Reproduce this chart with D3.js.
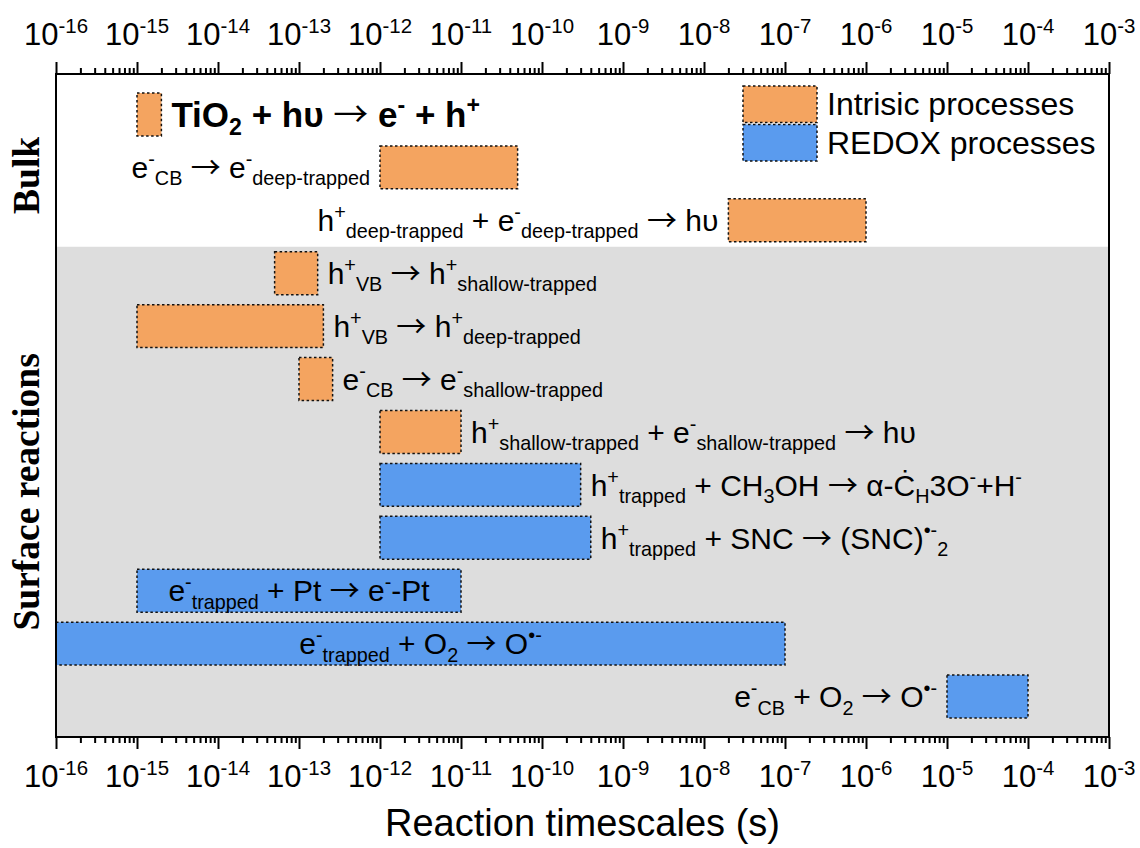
<!DOCTYPE html>
<html>
<head>
<meta charset="utf-8">
<script src="https://cdn.jsdelivr.net/npm/d3@7"></script>
<style>
  html, body { margin: 0; padding: 0; background: #ffffff; }
  svg { display: block; }
</style>
</head>
<body>
<svg id="chart" width="1140" height="848"></svg>
<script>
// Reaction labels (^{..} superscript, _{..} subscript), one row each, top to bottom
const reactions = [
  "TiO_{2} + hυ → e^{-} + h^{+}",
  "e^{-}_{CB} → e^{-}_{deep-trapped}",
  "h^{+}_{deep-trapped} + e^{-}_{deep-trapped} → hυ",
  "h^{+}_{VB} → h^{+}_{shallow-trapped}",
  "h^{+}_{VB} → h^{+}_{deep-trapped}",
  "e^{-}_{CB} → e^{-}_{shallow-trapped}",
  "h^{+}_{shallow-trapped} + e^{-}_{shallow-trapped} → hυ",
  "h^{+}_{trapped} + CH_{3}OH → α-Ċ_{H}3O^{-}+H^{-}",
  "h^{+}_{trapped} + SNC → (SNC)^{•-}_{2}",
  "e^{-}_{trapped} + Pt → e^{-}-Pt",
  "e^{-}_{trapped} + O_{2} → O^{•-}",
  "e^{-}_{CB} + O_{2} → O^{•-}"
];
// Timescale range of each reaction (seconds)
const tStart = [1e-15, 1e-12, 2e-8, 5e-14, 1e-15, 1e-13, 1e-12, 1e-12, 1e-12, 1e-15, 1e-16, 1e-5];
const tEnd   = [2e-15, 5e-11, 1e-6, 1.7e-13, 2e-13, 2.6e-13, 1e-11, 3e-10, 4e-10, 1e-11, 1e-7, 1e-4];
const processType = ["intrinsic", "intrinsic", "intrinsic", "intrinsic", "intrinsic", "intrinsic",
                     "intrinsic", "redox", "redox", "redox", "redox", "redox"];
// Where each reaction's label sits relative to its bar
const labelSide = ["right", "left", "left", "right", "right", "right",
                   "right", "right", "right", "inside", "inside", "left"];
const labelBold = [true, false, false, false, false, false, false, false, false, false, false, false];
// Region names and the number of rows in each
const regions = ["Bulk", "Surface reactions"];
const regionRows = [3, 9];
// Decade exponents for axis tick labels
const tickExponents = [-16, -15, -14, -13, -12, -11, -10, -9, -8, -7, -6, -5, -4, -3];
const legendTypes = ["intrinsic", "redox"];
const legendLabels = ["Intrisic processes", "REDOX processes"];

const colors = { intrinsic: "#F4A460", redox: "#5A9BEE" };
const SANS = "'Liberation Sans', Arial, sans-serif";
const SERIF = "'Liberation Serif', 'Times New Roman', serif";
const ARROW_FONT = "'Noto Sans CJK JP', 'DejaVu Sans', sans-serif";

const svg = d3.select("#chart");
const plotLeft = 56, plotRight = 1109, plotTop = 74, plotBottom = 737;

const x = d3.scaleLog().domain([1e-16, 1e-3]).range([plotLeft, plotRight]);
const y = d3.scaleBand()
  .domain(d3.range(reactions.length))
  .range([plotTop, plotBottom])
  .paddingInner(0.19)
  .paddingOuter(0.36);

// Background regions: Bulk (white) and Surface reactions (grey)
const boundary = y(regionRows[0] - 1) + y.bandwidth() + y.step() * y.paddingInner() / 2;
svg.append("rect").attr("x", plotLeft).attr("y", plotTop)
  .attr("width", plotRight - plotLeft).attr("height", boundary - plotTop).attr("fill", "#ffffff");
svg.append("rect").attr("x", plotLeft).attr("y", boundary)
  .attr("width", plotRight - plotLeft).attr("height", plotBottom - boundary).attr("fill", "#DDDDDD");

// Markup parser for super/subscripts; arrows get their own segment
function parseMarkup(s) {
  const re = /\^\{([^}]*)\}|_\{([^}]*)\}|(→)|([^^_→]+)/g;
  const out = [];
  let m;
  while ((m = re.exec(s)) !== null) {
    if (m[1] !== undefined) out.push({ t: m[1], mode: "sup" });
    else if (m[2] !== undefined) out.push({ t: m[2], mode: "sub" });
    else if (m[3] !== undefined) out.push({ t: m[3], mode: "arrow" });
    else out.push({ t: m[4], mode: "base" });
  }
  return out;
}
function writeRich(textSel, s, size) {
  const segs = parseMarkup(s);
  let cur = 0;
  segs.forEach(seg => {
    const target = seg.mode === "sup" ? -0.4 * size : seg.mode === "sub" ? 0.24 * size : 0;
    const ts = textSel.append("tspan")
      .attr("dy", target - cur)
      .attr("font-size", (seg.mode === "sup" || seg.mode === "sub") ? size * 0.66 : size)
      .text(seg.t);
    if (seg.mode === "arrow") {
      ts.attr("font-family", ARROW_FONT).attr("font-weight", "normal");
    }
    cur = target;
  });
}

// Bars
const bars = svg.append("g");
reactions.forEach((r, i) => {
  bars.append("rect")
    .attr("x", x(tStart[i]))
    .attr("y", y(i))
    .attr("width", x(tEnd[i]) - x(tStart[i]))
    .attr("height", y.bandwidth())
    .attr("fill", colors[processType[i]])
    .attr("stroke", "#111")
    .attr("stroke-width", 1.5)
    .attr("stroke-dasharray", "2.5,2.5");
});

// Reaction labels
const labels = svg.append("g").attr("font-family", SANS).attr("fill", "#000");
reactions.forEach((r, i) => {
  const size = labelBold[i] ? 35 : 30;
  const cy = y(i) + y.bandwidth() / 2 + 0.36 * size;
  let tx, anchor;
  if (labelSide[i] === "right") { tx = x(tEnd[i]) + 10; anchor = "start"; }
  else if (labelSide[i] === "left") { tx = x(tStart[i]) - 10; anchor = "end"; }
  else { tx = (x(tStart[i]) + x(tEnd[i])) / 2; anchor = "middle"; }
  const t = labels.append("text")
    .attr("x", tx).attr("y", cy)
    .attr("text-anchor", anchor)
    .attr("font-weight", labelBold[i] ? "bold" : "normal");
  writeRich(t, r, size);
});

// Axes: major decade ticks and minor ticks, top and bottom, pointing outward
const majors = tickExponents.map(e => Math.pow(10, e));
const minors = [];
tickExponents.slice(0, -1).forEach(e => {
  for (let k = 2; k <= 9; k++) minors.push(k * Math.pow(10, e));
});

function styleAxis(g) {
  g.select(".domain").remove();
  g.selectAll(".tick line").attr("stroke", "#000").attr("stroke-width", 2);
  g.selectAll(".tick text").remove();
}
svg.append("g").attr("transform", `translate(0,${plotBottom})`)
  .call(d3.axisBottom(x).tickValues(majors).tickSize(12).tickFormat("")).call(styleAxis);
svg.append("g").attr("transform", `translate(0,${plotBottom})`)
  .call(d3.axisBottom(x).tickValues(minors).tickSize(6).tickFormat("")).call(styleAxis);
svg.append("g").attr("transform", `translate(0,${plotTop})`)
  .call(d3.axisTop(x).tickValues(majors).tickSize(12).tickFormat("")).call(styleAxis);
svg.append("g").attr("transform", `translate(0,${plotTop})`)
  .call(d3.axisTop(x).tickValues(minors).tickSize(6).tickFormat("")).call(styleAxis);

// Plot frame
svg.append("rect").attr("x", plotLeft).attr("y", plotTop)
  .attr("width", plotRight - plotLeft).attr("height", plotBottom - plotTop)
  .attr("fill", "none").attr("stroke", "#000").attr("stroke-width", 2);

// Tick labels 10^n
const tickG = svg.append("g").attr("font-family", SANS).attr("fill", "#000");
[plotBottom + 50, 45].forEach(ty => {
  tickExponents.forEach(e => {
    const t = tickG.append("text")
      .attr("x", x(Math.pow(10, e))).attr("y", ty)
      .attr("text-anchor", "middle");
    writeRich(t, `10^{${e}}`, 31);
  });
});

// Axis title
svg.append("text")
  .attr("x", (plotLeft + plotRight) / 2).attr("y", 836)
  .attr("text-anchor", "middle")
  .attr("font-family", SANS).attr("font-size", 38)
  .text("Reaction timescales (s)");

// Region labels on the left
regions.forEach((name, k) => {
  const y0 = k === 0 ? plotTop : boundary;
  const y1 = k === regions.length - 1 ? plotBottom : boundary;
  const cy = k === 0 ? (y0 + y1) / 2 + 15 : (y0 + y1) / 2;
  svg.append("text")
    .attr("transform", `translate(39,${cy}) rotate(-90)`)
    .attr("text-anchor", "middle")
    .attr("font-family", SERIF).attr("font-weight", "bold").attr("font-size", 37.5)
    .text(name);
});

// Legend
const legend = svg.append("g").attr("font-family", SANS);
legendTypes.forEach((type, k) => {
  const ly = 86 + k * 38.5;
  legend.append("rect")
    .attr("x", 743).attr("y", ly).attr("width", 74).attr("height", 36.5)
    .attr("fill", colors[type])
    .attr("stroke", "#111").attr("stroke-width", 1.5).attr("stroke-dasharray", "2.5,2.5");
  legend.append("text")
    .attr("x", 827).attr("y", ly + 29)
    .attr("font-size", 32)
    .text(legendLabels[k]);
});
</script>
</body>
</html>
